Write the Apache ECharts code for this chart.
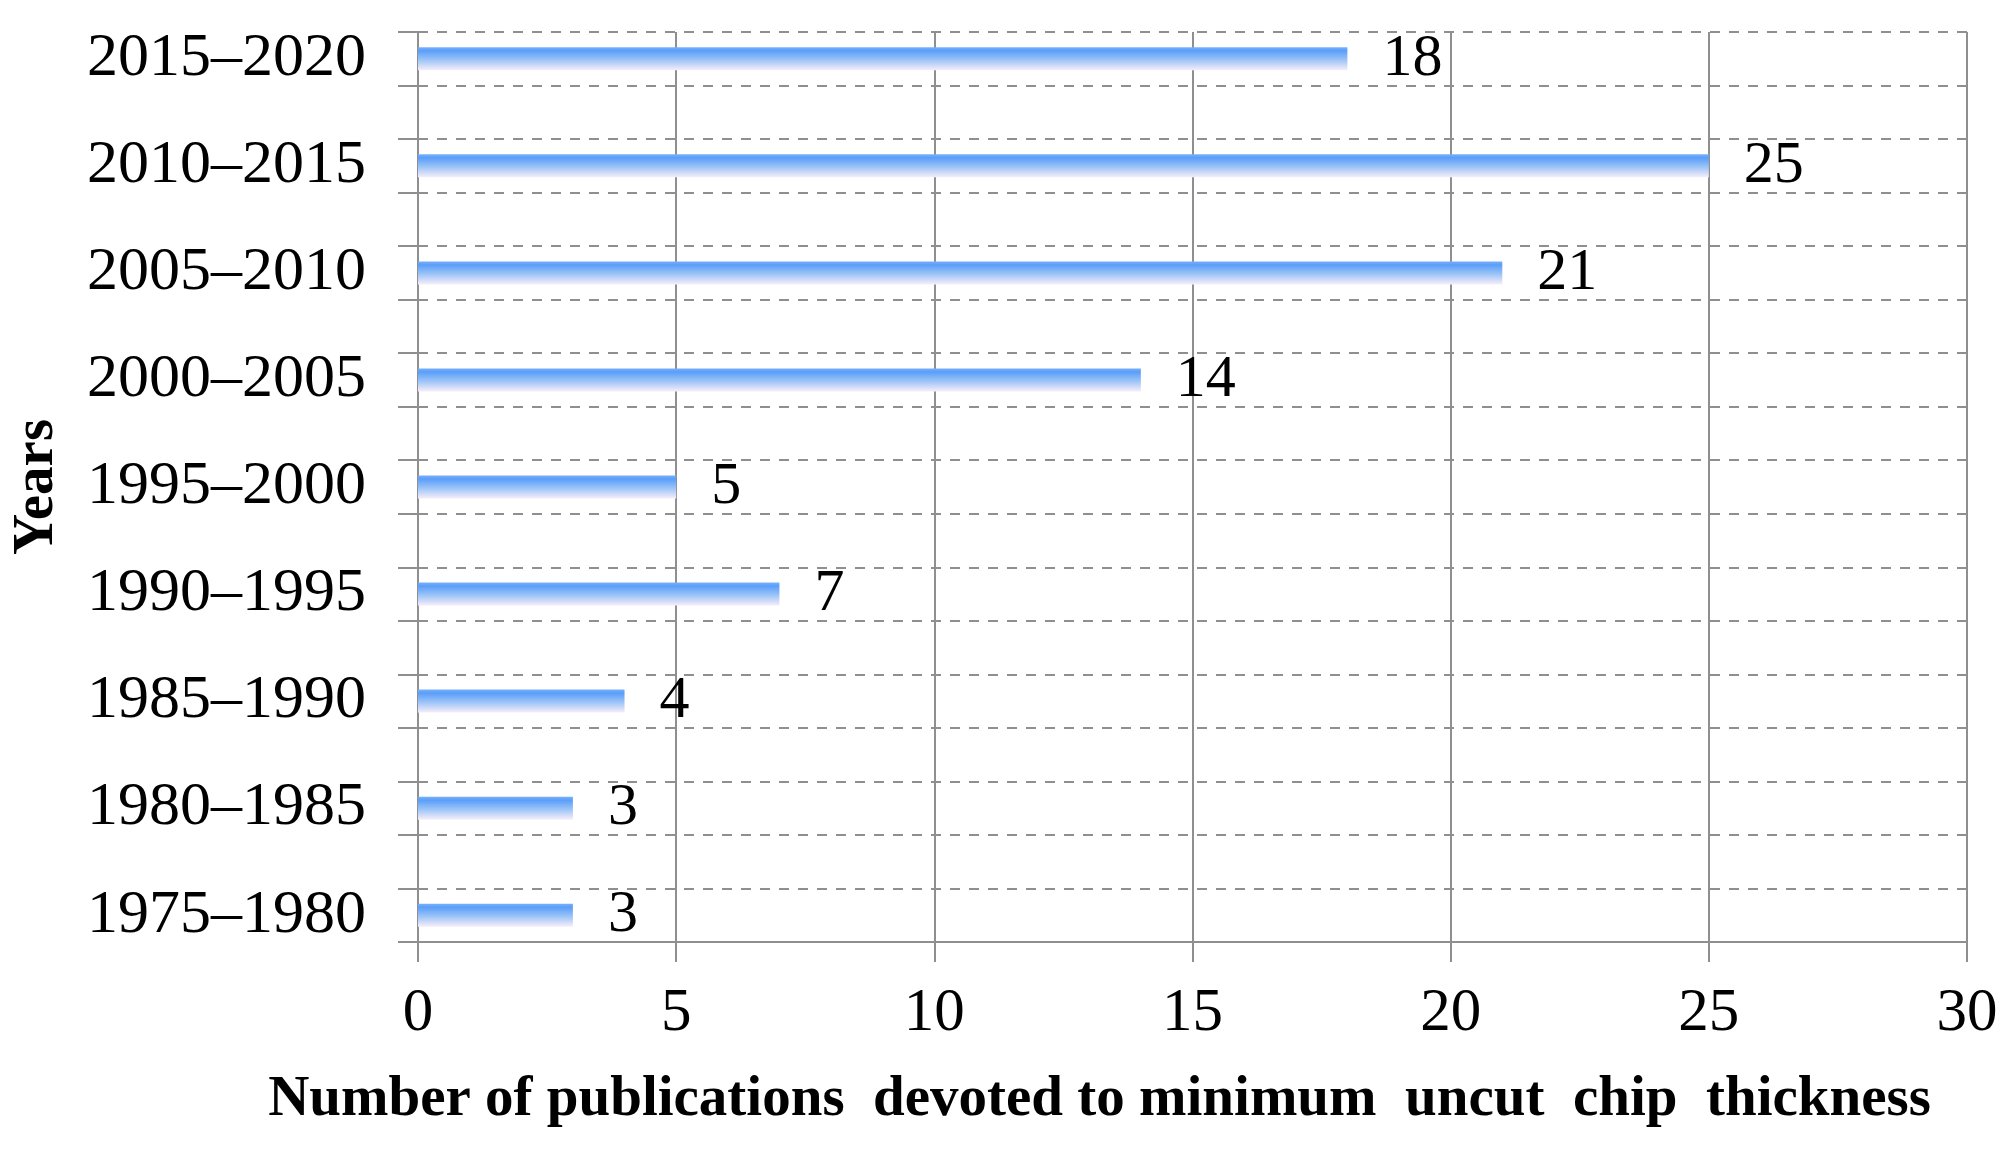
<!DOCTYPE html>
<html>
<head>
<meta charset="utf-8">
<script src="https://cdn.jsdelivr.net/npm/echarts@6/dist/echarts.min.js"></script>
<style>
  html, body { margin: 0; padding: 0; background: #fff; }
  #main { width: 2016px; height: 1152px; }
</style>
</head>
<body>
<div id="main"></div>
<script>
// periods, top to bottom as in the figure
const periods = ['2015–2020', '2010–2015', '2005–2010', '2000–2005', '1995–2000',
                 '1990–1995', '1985–1990', '1980–1985', '1975–1980'];
const counts = [18, 25, 21, 14, 5, 7, 4, 3, 3];
const xTicks = [0, 5, 10, 15, 20, 25, 30];

// the original chart has an empty slot between every two periods
const slots = [];
const values = [];
periods.forEach((p, i) => {
    slots.push(p);
    values.push(counts[i]);
    if (i < periods.length - 1) {
        slots.push('gap' + i);
        values.push(null);
    }
});

const grey = '#8f8f8f';
const serif = '"Liberation Serif", "Times New Roman", serif';

const chart = echarts.init(document.getElementById('main'));
const option = {
    animation: false,
    backgroundColor: '#fff',
    grid: {
        left: 418,
        right: 49,
        top: 32,
        bottom: 210
    },
    xAxis: {
        type: 'value',
        min: xTicks[0],
        max: xTicks[xTicks.length - 1],
        interval: 5,
        name: 'Number of publications  devoted to minimum  uncut  chip  thickness',
        nameLocation: 'middle',
        nameGap: 130,
        nameTextStyle: {
            fontFamily: serif,
            fontWeight: 'bold',
            fontSize: 57,
            color: '#000',
            padding: [0, 186, 0, 0]
        },
        axisLine: { show: true, lineStyle: { color: grey, width: 2 } },
        axisTick: { show: true, length: 20, lineStyle: { color: grey, width: 2 } },
        axisLabel: {
            fontFamily: serif,
            fontSize: 61,
            color: '#000',
            margin: 41
        },
        splitLine: { show: true, lineStyle: { color: grey, width: 2 } }
    },
    yAxis: {
        type: 'category',
        inverse: true,
        data: slots,
        name: 'Years',
        nameLocation: 'middle',
        nameGap: 352,
        nameRotate: 90,
        nameTextStyle: {
            fontFamily: serif,
            fontWeight: 'bold',
            fontSize: 57,
            color: '#000'
        },
        axisLine: { show: true, lineStyle: { color: grey, width: 2 } },
        axisTick: {
            show: true,
            interval: 0,
            length: 20,
            alignWithLabel: false,
            lineStyle: { color: grey, width: 2 }
        },
        axisLabel: {
            interval: 0,
            fontFamily: serif,
            fontSize: 62,
            color: '#000',
            margin: 52,
            padding: [5, 0, 0, 0],
            formatter: v => (v.indexOf('gap') === 0 ? '' : v)
        },
        splitLine: {
            show: true,
            interval: 0,
            lineStyle: { color: grey, width: 2, type: [10, 9] }
        }
    },
    series: [{
        type: 'bar',
        data: values,
        barWidth: 23,
        itemStyle: {
            color: new echarts.graphic.LinearGradient(0, 0, 0, 1, [
                { offset: 0, color: '#79b0fb' },
                { offset: 0.15, color: '#5a9ef9' },
                { offset: 0.55, color: '#9cc4f7' },
                { offset: 1, color: '#f7eefa' }
            ])
        },
        label: {
            show: true,
            position: 'right',
            distance: 35,
            fontFamily: serif,
            fontSize: 60,
            color: '#000',
            padding: [4, 0, 0, 0]
        }
    }]
};

chart.setOption(option);
</script>
</body>
</html>
